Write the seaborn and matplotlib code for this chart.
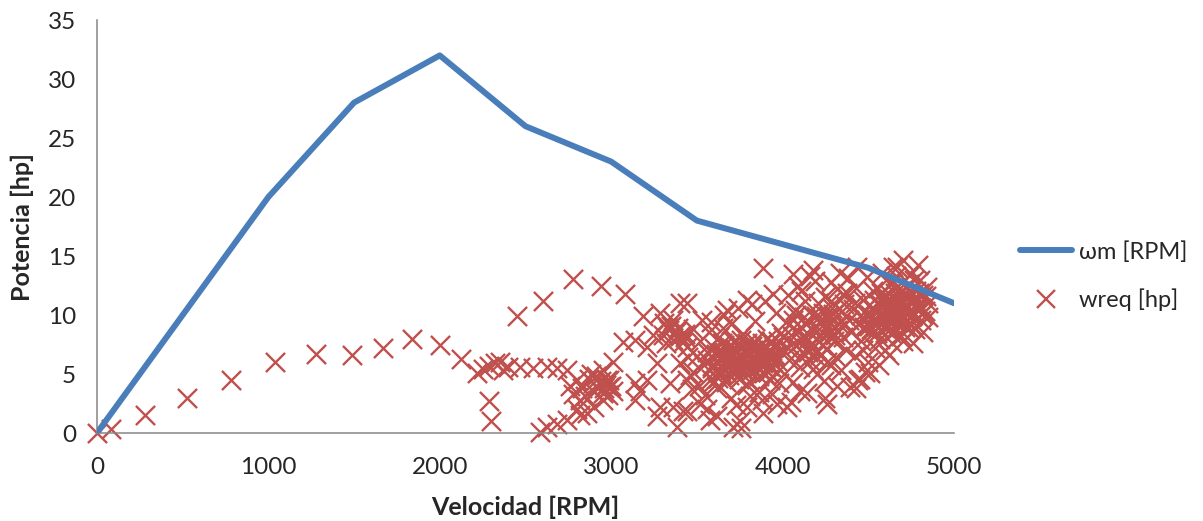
import pandas as pd
import matplotlib
matplotlib.use("Agg")
import matplotlib.pyplot as plt
import seaborn as sns
from matplotlib.lines import Line2D

# curve of motor power
wm_rpm = [0, 1000, 1500, 2000, 2500, 3000, 3500, 4000, 4500, 5000]
wm_hp = [0, 20, 28, 32, 26, 23, 18, 16, 14, 11]

# required power points (clusters estimated)
wreq_rpm = [
    0, 80, 280, 525, 780, 1040, 1280, 1490, 1670, 1840, 2000, 2125, 2215, 2290, 2350,
    2450, 2600, 2775, 2940, 3080, 2290, 2300, 2470, 2545, 2625, 2685, 2740, 2585, 2625,
    2685, 2740, 2800, 2820, 2250, 2320, 2370, 2400,
    2760, 2800, 2830, 2870, 2900, 2930, 2960, 2990, 3010, 2850, 2880, 2950, 2780, 2820,
    2900, 2950, 2980, 3000, 2857, 2895, 2975, 2953, 3012,
    3185, 3285, 3400, 3070, 3140, 3207, 3245, 3325, 3360, 3140, 3170, 3207, 3140, 3265,
    3343, 3285, 3265, 3383, 3360, 3420, 3400, 3440, 3440, 3440, 3675, 3790, 3945, 3440,
    3575, 3710, 3790, 3885, 3965, 3520, 3886,
    3480, 3500, 3510, 3520, 3540, 3550, 3560, 3570, 3580, 3590, 3600, 3610, 3620, 3630,
    3640, 3650, 3660, 3670, 3680, 3690, 3700, 3700, 3710, 3720, 3730, 3740, 3750, 3760,
    3770, 3780, 3790, 3800, 3810, 3820, 3830, 3840, 3850, 3860, 3870, 3880, 3890, 3900,
    3910, 3920, 3930, 3940, 3950, 3960, 3970, 3980, 3990, 3640, 3700, 3760, 3820, 3880,
    3660, 3720, 3790, 3850, 3910, 3600, 3650, 3730, 3810, 3880, 3560, 3620, 3750, 3940,
    3580, 3660, 3740, 3820, 3900, 3760, 3480, 3530, 3450, 3460, 3470, 3430,
    4000, 4010, 4020, 4030, 4040, 4050, 4060, 4070, 4080, 4090, 4100, 4110, 4120, 4130,
    4140, 4150, 4160, 4170, 4180, 4190, 4200, 4210, 4220, 4230, 4240, 4250, 4260, 4270,
    4280, 4290, 4300, 4310, 4320, 4330, 4340, 4350, 4360, 4370, 4380, 4390, 4200, 4230,
    4260, 4150, 4180, 4300, 4120, 4080, 4250, 4320, 4050, 4110, 4160, 4280, 4350,
    4060, 4177, 4335, 4433, 4260, 4025, 4100, 4393, 4440,
    4400, 4410, 4420, 4430, 4440, 4450, 4460, 4470, 4480, 4490, 4500, 4510, 4520, 4530,
    4540, 4550, 4560, 4570, 4580, 4590, 4600, 4610, 4620, 4630, 4640, 4650, 4660, 4670,
    4680, 4690, 4700, 4710, 4720, 4730, 4740, 4750, 4760, 4770, 4780, 4790, 4800, 4810,
    4820, 4830, 4840, 4850, 4550, 4600, 4650, 4700, 4750, 4620, 4680, 4720, 4580, 4520,
    4470, 4640, 4700, 4760, 4560, 4480, 4620, 4820, 4850, 4790, 4660, 4430, 4645, 4510,
    # extra points filling the dense cores
    3620, 3635, 3655, 3675, 3690, 3705, 3725, 3745, 3765, 3785, 3805, 3825, 3845, 3865,
    3885, 3905, 3925, 3945, 3615, 3645, 3670, 3695, 3715, 3735, 3755, 3775, 3795, 3815,
    3835, 3855, 3875, 3895, 3915, 3935, 3955, 3625, 3685, 3745, 3805, 3865, 3925,
    3300, 3320, 3340, 3360, 3380, 3400, 3420, 3310, 3350, 3390, 3430, 2920, 2940, 2970,
    2990, 2910,
    4090, 4115, 4135, 4155, 4175, 4195, 4215, 4235, 4255, 4275, 4295, 4315, 4105, 4145,
    4185, 4225, 4265, 4305, 4345, 4125, 4205, 4285, 4365, 4375,
    4505, 4525, 4545, 4565, 4585, 4605, 4625, 4645, 4665, 4685, 4705, 4725, 4745, 4765,
    4785, 4515, 4535, 4555, 4575, 4595, 4615, 4635, 4655, 4675, 4695, 4715, 4735, 4755,
    4775, 4795, 4815, 4835, 4555, 4625, 4695, 4765, 4455, 4475, 4495, 4425,
    3560, 3590, 3610, 3640, 3665, 3690, 3710, 3740, 3770, 3800, 3830, 3860, 3890, 3920,
    3950, 3975, 4000, 4030, 4060, 4570, 4590, 4610, 4660, 4680, 4730, 4750, 4780, 4810,
]
wreq_hp = [
    0, 0.3, 1.5, 3.0, 4.5, 6.0, 6.7, 6.6, 7.2, 8.0, 7.5, 6.3, 5.1, 5.7, 6.0,
    9.9, 11.2, 13.05, 12.5, 11.8, 2.7, 1.0, 5.6, 5.5, 5.6, 5.5, 5.3, 0.1, 0.5,
    0.8, 1.1, 2.0, 2.8, 5.4, 5.9, 5.3, 5.6,
    4.0, 4.5, 3.8, 4.6, 3.5, 4.2, 3.8, 4.5, 3.6, 3.1, 5.0, 5.3, 3.3, 1.5,
    2.2, 2.8, 3.2, 4.0, 1.7, 4.2, 4.5, 3.4, 6.0,
    9.9, 10.2, 11.0, 7.7, 7.9, 7.3, 8.3, 9.0, 9.6, 4.2, 3.6, 4.5, 2.8, 5.9,
    4.2, 2.2, 1.4, 0.5, 2.2, 1.9, 5.9, 7.3, 4.5, 11.0, 10.4, 11.3, 11.8, 1.9,
    1.1, 0.5, 2.2, 1.7, 2.5, 2.5, 14.0,
    5.2, 6.5, 4.0, 7.8, 5.8, 3.2, 6.9, 8.6, 4.6, 5.5, 7.2, 6.1, 3.8, 8.1,
    5.0, 6.6, 7.5, 4.3, 5.8, 6.9, 9.2, 3.0, 5.3, 6.2, 7.8, 4.8, 6.7, 5.6,
    8.4, 7.0, 4.1, 6.0, 5.2, 7.4, 6.5, 9.5, 5.7, 3.5, 6.8, 7.6, 5.1, 6.3,
    8.0, 4.6, 6.9, 5.5, 7.3, 10.2, 6.1, 4.2, 8.5, 6.3, 6.4, 6.5, 6.2, 6.4,
    5.4, 7.1, 5.9, 7.2, 6.0, 4.4, 8.9, 2.4, 3.1, 2.8, 2.0, 1.4, 1.0, 3.3,
    9.4, 10.0, 10.6, 10.9, 11.2, 0.4, 8.8, 9.6, 6.4, 4.9, 3.7, 8.1,
    7.0, 5.0, 9.4, 11.7, 6.2, 8.3, 4.3, 10.4, 7.5, 12.5, 5.6, 9.0, 6.8, 11.2,
    3.4, 8.0, 6.1, 10.0, 7.3, 12.9, 5.0, 8.8, 6.6, 9.7, 4.4, 11.5, 7.1, 8.5,
    5.8, 10.6, 7.8, 6.4, 12.2, 9.2, 5.3, 8.1, 10.9, 7.0, 13.1, 9.6, 7.0, 7.5,
    6.0, 6.9, 5.4, 9.0, 8.2, 10.0, 3.0, 4.0, 2.6, 12.0, 13.3, 12.8, 11.8,
    13.5, 13.8, 13.6, 14.1, 2.5, 2.2, 3.6, 3.9, 4.5,
    8.6, 10.5, 6.5, 12.3, 9.2, 4.6, 7.8, 11.3, 8.9, 13.2, 6.0, 10.0, 8.4, 12.0,
    7.2, 9.6, 11.0, 8.0, 13.6, 10.4, 7.0, 9.0, 11.8, 8.5, 12.7, 10.0, 9.3, 14.1,
    11.2, 8.2, 14.7, 10.6, 12.4, 9.0, 11.5, 13.5, 10.1, 8.8, 12.0, 10.8, 13.0, 9.6,
    11.7, 10.3, 12.4, 11.0, 8.5, 9.8, 8.6, 9.8, 9.2, 10.4, 10.0, 10.9, 10.8, 9.5,
    7.0, 7.6, 7.8, 7.6, 5.8, 5.2, 6.6, 8.6, 9.8, 14.2, 13.3, 3.8, 14.1, 5.1,
    # extra points filling the dense cores
    6.0, 6.8, 5.6, 7.2, 6.3, 5.9, 6.9, 6.1, 7.3, 5.8, 6.6, 7.0, 6.2, 6.8,
    5.9, 6.7, 6.4, 6.0, 5.4, 7.6, 6.5, 5.3, 7.7, 5.5, 7.9, 6.9, 7.6, 5.6,
    7.8, 5.5, 7.1, 7.3, 5.2, 7.8, 6.6, 4.7, 4.9, 4.6, 4.4, 4.8, 4.5,
    8.3, 7.6, 8.7, 7.9, 8.6, 8.2, 7.7, 9.3, 9.1, 8.9, 8.4, 3.9, 4.4, 4.1,
    3.9, 4.8,
    8.6, 7.9, 9.2, 7.4, 8.7, 9.9, 7.8, 10.2, 8.9, 9.4, 10.1, 8.7, 6.4, 7.2,
    6.6, 8.3, 9.9, 8.3, 10.3, 9.8, 11.0, 11.2, 9.2, 11.9,
    9.1, 10.6, 10.2, 9.4, 11.4, 10.9, 9.6, 11.1, 10.5, 11.4, 10.3, 11.6, 10.4, 11.2,
    10.5, 8.8, 11.3, 9.0, 11.9, 8.9, 11.2, 9.2, 11.9, 9.4, 12.1, 9.0, 12.6, 9.9,
    11.3, 11.9, 10.1, 11.6, 12.3, 12.6, 12.8, 13.0, 10.0, 9.0, 10.2, 11.0,
    6.2, 5.7, 6.7, 5.2, 6.1, 7.4, 5.6, 6.3, 5.3, 6.9, 5.4, 6.0, 7.0, 5.7,
    6.4, 7.8, 8.1, 7.2, 9.6, 10.0, 11.6, 10.7, 10.7, 9.5, 10.2, 11.0, 11.5, 10.6,
]

df_line = pd.DataFrame({"rpm": wm_rpm, "hp": wm_hp})
df_pts = pd.DataFrame({"rpm": wreq_rpm, "hp": wreq_hp})

sns.set_style("white")
plt.rcParams['font.family'] = ['Lato', 'DejaVu Sans']

blue = "#4a7ebb"
red = "#c0504d"
grey = "#868686"

fig = plt.figure(figsize=(12.03, 5.21), dpi=100)
ax = fig.add_axes([0.0806, 0.1689, 0.7124, 0.7927])

sns.scatterplot(data=df_pts, x="rpm", y="hp", marker="x", s=190, color=red,
                linewidth=1.7, ax=ax, zorder=2, clip_on=False)
sns.lineplot(data=df_line, x="rpm", y="hp", color=blue, linewidth=4.3,
             ax=ax, zorder=3)

ax.set_xlim(0, 5000)
ax.set_ylim(0, 35)
ax.set_xticks(range(0, 5001, 1000))
ax.set_yticks(range(0, 36, 5))
ax.tick_params(axis="both", labelsize=17.5, length=6, width=1.1, color=grey,
               direction="out", pad=9)
ax.tick_params(axis="x", pad=11)
for side in ["top", "right"]:
    ax.spines[side].set_visible(False)
for side in ["left", "bottom"]:
    ax.spines[side].set_color(grey)
    ax.spines[side].set_linewidth(1.1)

ax.set_xlabel("Velocidad [RPM]", fontsize=18, fontweight="bold", labelpad=13)
ax.set_ylabel("Potencia [hp]", fontsize=18, fontweight="bold", labelpad=10)

handles = [
    Line2D([], [], color=blue, linewidth=4.3),
    Line2D([], [], color=red, marker="x", linestyle="none", markersize=13.5,
           markeredgewidth=1.7),
]
fig.legend(handles, ["ωm [RPM]", "wreq [hp]"], loc="center left",
           bbox_to_anchor=(0.83, 0.47), frameon=False, fontsize=17,
           handlelength=2.2, labelspacing=1.1, handletextpad=0.3)

fig.savefig("out.png", dpi=100)
